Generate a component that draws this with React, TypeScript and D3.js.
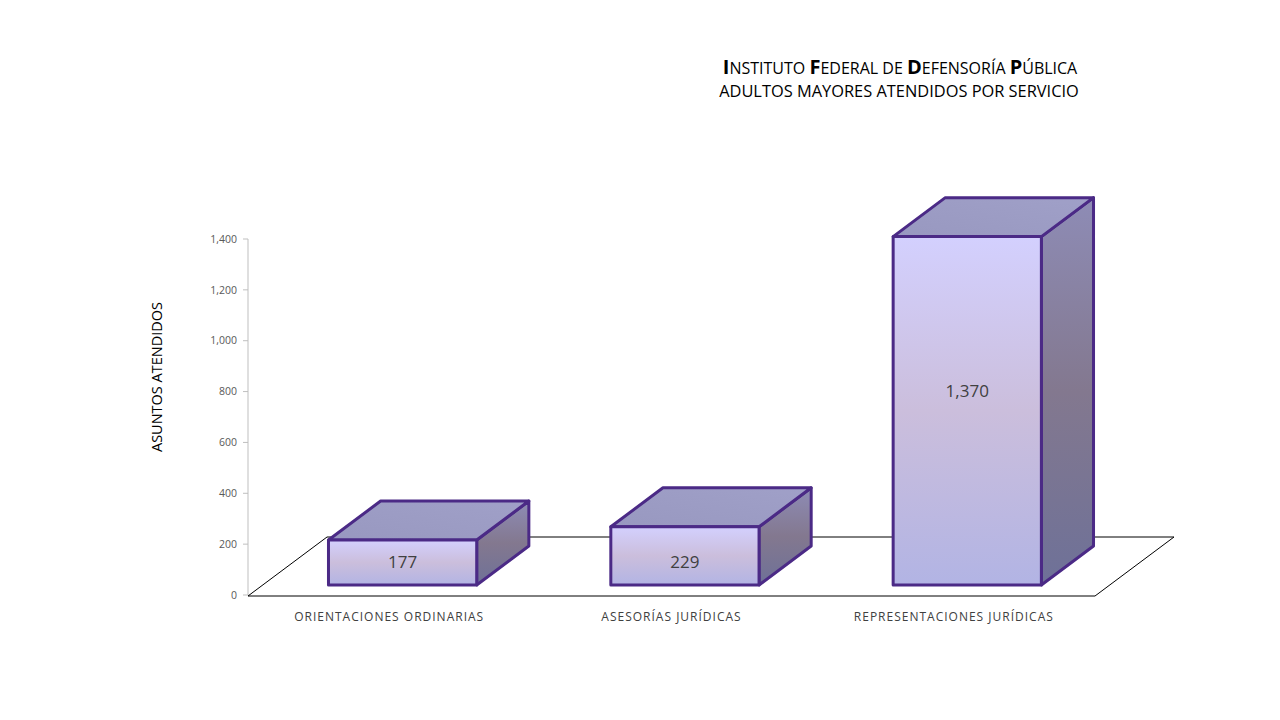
import React from "react";
import * as d3 from "d3";

const categories = [
  "ORIENTACIONES ORDINARIAS",
  "ASESORÍAS JURÍDICAS",
  "REPRESENTACIONES JURÍDICAS",
];
const values = [177, 229, 1370];
const yTicks = [0, 200, 400, 600, 800, 1000, 1200, 1400];

const titleParts = [
  { t: "I", big: true },
  { t: "NSTITUTO ", big: false },
  { t: "F", big: true },
  { t: "EDERAL DE ", big: false },
  { t: "D", big: true },
  { t: "EFENSORÍA ", big: false },
  { t: "P", big: true },
  { t: "ÚBLICA", big: false },
];
const subtitle = "ADULTOS MAYORES ATENDIDOS POR SERVICIO";
const yTitle = "ASUNTOS ATENDIDOS";

const W = 1280;
const H = 720;
const font = "'Open Sans', 'Noto Sans', sans-serif";

export default function App() {
  const left = 248;
  const right = 1095;

  const x = d3.scaleBand().domain(categories).range([left, right]).padding(0);
  const y = d3.scaleLinear().domain([0, 1400]).range([595, 239]);

  // floor depth vector (oblique projection)
  const depth = { dx: 79, dy: -59 };
  const frontT = 0.17;
  const backT = 0.83;
  const barW = x.bandwidth() * 0.525;
  const floorY = y(0) + 1;

  const floorPts = [
    [left, floorY],
    [right, floorY],
    [right + depth.dx, floorY + depth.dy],
    [left + depth.dx, floorY + depth.dy],
  ];

  const fdx = depth.dx * frontT;
  const fdy = depth.dy * frontT;
  const bdx = depth.dx * (backT - frontT);
  const bdy = depth.dy * (backT - frontT);

  const bars = categories.map((c, i) => {
    const cx = x(c)! + x.bandwidth() / 2 + fdx;
    const x0 = cx - barW / 2;
    const x1 = cx + barW / 2;
    const yb = y(0) + fdy;
    const yt = y(values[i]) + fdy;
    // label at the bar's 3D centre; falls back near the bottom when the bar is too short
    const mid = y(values[i] / 2) + depth.dy * 0.5;
    const labelY = mid - 10 < yt ? yb - 23 : mid;
    return { c, v: values[i], x0, x1, yb, yt, cx, labelY };
  });

  const pts = (p: number[][]) => p.map((d) => d.join(",")).join(" ");

  return (
    <svg width={W} height={H} style={{ position: "absolute", left: 0, top: 0, background: "#fff" }}>
      <defs>
        <linearGradient id="front" x1="0" y1="0" x2="0" y2="1">
          <stop offset="0" stopColor="#d3d0fe" />
          <stop offset="0.5" stopColor="#cbbedc" />
          <stop offset="1" stopColor="#b2b4e4" />
        </linearGradient>
        <linearGradient id="side" x1="0" y1="0" x2="0" y2="1">
          <stop offset="0" stopColor="#8e8cb6" />
          <stop offset="0.5" stopColor="#83788f" />
          <stop offset="1" stopColor="#6e7198" />
        </linearGradient>
        <linearGradient id="top" x1="0" y1="1" x2="1" y2="0">
          <stop offset="0" stopColor="#9898c0" />
          <stop offset="1" stopColor="#a0a0c8" />
        </linearGradient>
      </defs>

      {/* title */}
      <text x={900} y={74} textAnchor="middle" fontFamily={font} fill="#000">
        {titleParts.map((p, i) => (
          <tspan key={i} fontSize={p.big ? 20 : 16} fontWeight={p.big ? 700 : 400}>
            {p.t}
          </tspan>
        ))}
      </text>
      <text x={899} y={97} textAnchor="middle" fontFamily={font} fontSize={16.4} fill="#000">
        {subtitle}
      </text>

      {/* y axis */}
      <line x1={left} x2={left} y1={y(1400)} y2={y(0)} stroke="#bfbfbf" />
      {yTicks.map((t) => (
        <g key={t}>
          <line x1={left - 5} x2={left} y1={y(t)} y2={y(t)} stroke="#bfbfbf" />
          <text
            x={left - 11}
            y={y(t)}
            dy="0.35em"
            textAnchor="end"
            fontFamily={font}
            fontSize={10.5}
            fill="#595959"
          >
            {d3.format(",")(t)}
          </text>
        </g>
      ))}
      <text
        transform={`translate(162,${(y(0) + y(1400)) / 2 - 40}) rotate(-90)`}
        textAnchor="middle"
        fontFamily={font}
        fontSize={14.5}
        fill="#000"
      >
        {yTitle}
      </text>

      {/* floor */}
      <polygon points={pts(floorPts)} fill="none" stroke="#000" strokeWidth={1} />

      {/* bars */}
      {bars.map((b) => (
        <g key={b.c} stroke="#4b2a86" strokeWidth={3} strokeLinejoin="round">
          <polygon
            points={pts([
              [b.x1, b.yt],
              [b.x1 + bdx, b.yt + bdy],
              [b.x1 + bdx, b.yb + bdy],
              [b.x1, b.yb],
            ])}
            fill="url(#side)"
          />
          <polygon
            points={pts([
              [b.x0, b.yt],
              [b.x0 + bdx, b.yt + bdy],
              [b.x1 + bdx, b.yt + bdy],
              [b.x1, b.yt],
            ])}
            fill="url(#top)"
          />
          <rect x={b.x0} y={b.yt} width={b.x1 - b.x0} height={b.yb - b.yt} fill="url(#front)" />
          <text
            x={b.cx}
            y={b.labelY}
            dy="0.35em"
            textAnchor="middle"
            fontFamily={font}
            fontSize={17}
            fill="#404040"
            stroke="none"
          >
            {d3.format(",")(b.v)}
          </text>
        </g>
      ))}

      {/* category labels */}
      {categories.map((c) => (
        <text
          key={c}
          x={x(c)! + x.bandwidth() / 2}
          y={621}
          textAnchor="middle"
          fontFamily={font}
          fontSize={12}
          letterSpacing={1}
          fill="#404040"
        >
          {c}
        </text>
      ))}
    </svg>
  );
}
